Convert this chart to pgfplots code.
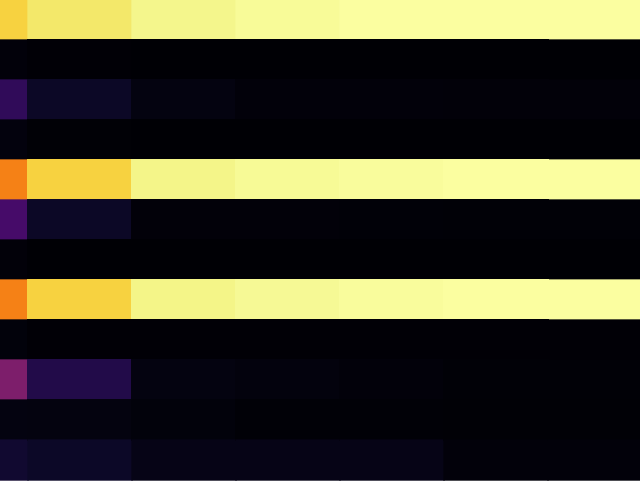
\documentclass[border=0pt]{standalone}
\usepackage{pgfplots}
\pgfplotsset{compat=1.18}
\usepackage{pgfplotstable}
\pgfplotsset{colormap={infernoish}{
rgb255(0cm)=(0,0,4)
rgb255(5cm)=(10,7,34)
rgb255(10cm)=(22,11,57)
rgb255(15cm)=(42,11,84)
rgb255(20cm)=(66,10,104)
rgb255(30cm)=(106,23,110)
rgb255(40cm)=(147,38,103)
rgb255(50cm)=(188,55,84)
rgb255(60cm)=(221,81,58)
rgb255(70cm)=(243,120,25)
rgb255(80cm)=(252,165,10)
rgb255(90cm)=(246,215,70)
rgb255(95cm)=(242,238,118)
rgb255(97.5cm)=(245,248,145)
rgb255(100cm)=(252,255,164)
}}
\pgfplotstableread{
x y c
0 0 0.89
1 0 0.937
2 0 0.97
3 0 0.984
4 0 0.995
5 0 0.995
6 0 0.995
0 1 0.010
1 1 0.003
2 1 0.001
3 1 0.001
4 1 0.001
5 1 0.001
6 1 0.001
0 2 0.163
1 2 0.058
2 2 0.020
3 2 0.010
4 2 0.010
5 2 0.008
6 2 0.008
0 3 0.015
1 3 0.004
2 3 0.002
3 3 0.002
4 3 0.002
5 3 0.002
6 3 0.002
0 4 0.72
1 4 0.89
2 4 0.968
3 4 0.982
4 4 0.99
5 4 0.995
6 4 0.995
0 5 0.21
1 5 0.058
2 5 0.008
3 5 0.008
4 5 0.006
5 5 0.005
6 5 0.005
0 6 0.008
1 6 0.002
2 6 0.002
3 6 0.002
4 6 0.002
5 6 0.002
6 6 0.002
0 7 0.72
1 7 0.89
2 7 0.967
3 7 0.98
4 7 0.99
5 7 0.995
6 7 0.995
0 8 0.012
1 8 0.003
2 8 0.003
3 8 0.003
4 8 0.003
5 8 0.003
6 8 0.003
0 9 0.346
1 9 0.13
2 9 0.020
3 9 0.015
4 9 0.010
5 9 0.005
6 9 0.005
0 10 0.020
1 10 0.018
2 10 0.012
3 10 0.005
4 10 0.005
5 10 0.004
6 10 0.004
0 11 0.08
1 11 0.06
2 11 0.03
3 11 0.03
4 11 0.03
5 11 0.01
6 11 0.01
}\heat
\begin{document}
\begin{tikzpicture}
\begin{axis}[
  scale only axis,
  width=8cm, height=6cm,
  axis lines=none, ticks=none,
  enlargelimits=false,
  xmin=0.230769, xmax=6.384615,
  ymin=-0.5, ymax=11.5,
  y dir=reverse,
  colormap name=infernoish,
  point meta min=0, point meta max=1,
]
\addplot[matrix plot*, mesh/cols=7, point meta=explicit, shader=flat corner] table[x=x, y=y, meta=c] {\heat};
\end{axis}
\end{tikzpicture}
\end{document}
